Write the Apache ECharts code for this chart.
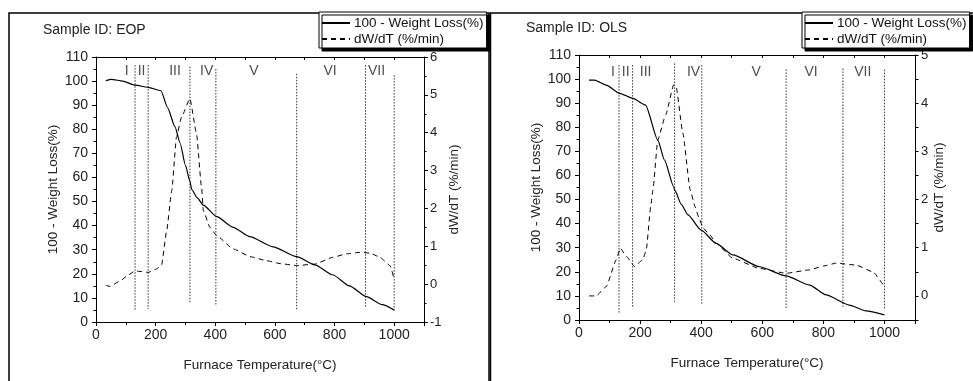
<!DOCTYPE html>
<html>
<head>
<meta charset="utf-8">
<script src="https://cdn.jsdelivr.net/npm/echarts@6/dist/echarts.min.js"></script>
<style>
html,body{margin:0;padding:0;background:#fff;}
#c{width:973px;height:381px;}
</style>
</head>
<body>
<div id="c"></div>
<script>
// ---------- DATA ----------
const seriesNames = ['100 - Weight Loss(%)', 'dW/dT (%/min)'];
const panelTitles = ['Sample ID: EOP', 'Sample ID: OLS'];
const xTickLabels = [0, 200, 400, 600, 800, 1000];

// EOP: 100 - Weight Loss (%)
const eopWT = [33, 52, 90, 131, 175, 218, 240, 265, 282, 300, 315, 321, 340, 360, 405, 460, 516, 594, 673, 734, 795, 850, 907, 960, 1000];
const eopW  = [100.2, 100.7, 100, 98.3, 97.4, 96, 89, 81, 74.3, 65, 58.4, 55, 51.5, 48.5, 43.7, 39.3, 35.4, 31.2, 27.1, 23.7, 19.5, 15, 10.5, 7.2, 5.0];
// EOP: dW/dT (%/min)
const eopDT = [33, 47, 80, 110, 131, 155, 175, 203, 220, 237, 254, 270, 287, 315, 337, 354, 360, 382, 405, 460, 520, 572, 620, 673, 734, 795, 840, 885, 920, 952, 986, 1000];
const eopD  = [-0.03, -0.06, 0.08, 0.25, 0.35, 0.33, 0.31, 0.40, 0.51, 1.41, 2.47, 3.89, 4.42, 4.9, 3.98, 2.56, 1.94, 1.5, 1.28, 0.93, 0.72, 0.62, 0.54, 0.49, 0.53, 0.71, 0.80, 0.84, 0.82, 0.71, 0.49, 0.13];
// EOP stage boundaries
const eopLineT   = [131, 175, 315, 402, 673, 904, 1000];
const eopLineTop = [106.6, 106.6, 106, 105, 103, 106.6, 102.5];
const eopLineBot = [5, 5.4, 7.8, 7, 5, 5.7, 4.3];
const stageNames = ['I', 'II', 'III', 'IV', 'V', 'VI', 'VII'];
const eopStageT  = [103, 153, 265, 371, 530, 785, 941];
const eopStageY  = 104;

// OLS: 100 - Weight Loss (%)
const olsWT = [33, 51, 89, 133, 176, 218, 258, 280, 310, 313, 335, 357, 400, 449, 504, 591, 678, 755, 809, 885, 940, 1000];
const olsW  = [99.6, 99.6, 97.5, 94.1, 92, 89.2, 74.7, 66.4, 55.3, 54, 48, 43.6, 37.3, 31.8, 27, 22.1, 18.3, 14.5, 10.4, 6.2, 3.8, 2.1];
// OLS: dW/dT (%/min)
const olsDT = [33, 56, 89, 122, 135, 155, 182, 209, 220, 236, 242, 258, 284, 310, 318, 340, 364, 380, 395, 406, 428, 449, 504, 591, 678, 755, 800, 842, 907, 962, 1000];
const olsD  = [0, 0, 0.19, 0.75, 0.99, 0.82, 0.61, 0.75, 0.95, 1.92, 2.2, 3.24, 3.76, 4.38, 4.34, 3.38, 2.2, 1.85, 1.58, 1.41, 1.27, 1.09, 0.78, 0.57, 0.47, 0.54, 0.62, 0.68, 0.64, 0.5, 0.19];
// OLS stage boundaries
const olsLineT   = [131, 175.5, 313, 402, 678, 864, 1000];
const olsLineTop = [105.8, 105.8, 106.5, 105.8, 104, 104.4, 103.9];
const olsLineBot = [3, 4.9, 7.6, 6.6, 4.9, 5.5, 4.1];
const olsStageT  = [111, 153, 218, 375, 580, 760, 929];
const olsStageY  = 103;

// ---------- CHART ----------
const FONT = 'Liberation Sans, Arial, sans-serif';
const TXT = '#222';
const zip = (a, b) => a.map((v, i) => [v, b[i]]);

function bottomX(gi) {
  return {
    type: 'value', gridIndex: gi, position: 'bottom', min: 0, max: 1100, interval: 200,
    name: 'Furnace Temperature(°C)', nameLocation: 'middle', nameGap: 36,
    nameTextStyle: { fontSize: 13.5, color: TXT, fontFamily: FONT },
    axisLine: { show: true, onZero: false, lineStyle: { color: '#000', width: 1 } },
    axisTick: { show: true, inside: false, length: 4, lineStyle: { color: '#000' } },
    minorTick: { show: true, splitNumber: 2, length: 3, lineStyle: { color: '#000' } },
    splitLine: { show: false },
    axisLabel: { fontSize: 14, color: TXT, fontFamily: FONT, margin: 6,
      formatter: v => (xTickLabels.indexOf(v) >= 0 ? String(v) : '') }
  };
}
function topX(gi) {
  return {
    type: 'value', gridIndex: gi, position: 'top', min: 0, max: 1100, interval: 100,
    axisLine: { show: true, onZero: false, lineStyle: { color: '#000', width: 1 } },
    axisTick: { show: true, inside: true, length: 3, lineStyle: { color: '#000' } },
    splitLine: { show: false }, axisLabel: { show: false }
  };
}
function leftY(gi) {
  return {
    type: 'value', gridIndex: gi, position: 'left', min: 0, max: 110, interval: 10,
    name: '100 - Weight Loss(%)', nameLocation: 'middle', nameGap: 36, nameRotate: 90,
    nameTextStyle: { fontSize: 13.5, color: TXT, fontFamily: FONT },
    axisLine: { show: true, onZero: false, lineStyle: { color: '#000', width: 1 } },
    axisTick: { show: true, inside: false, length: 4, lineStyle: { color: '#000' } },
    minorTick: { show: true, splitNumber: 2, length: 2.5, lineStyle: { color: '#000' } },
    splitLine: { show: false },
    axisLabel: { fontSize: 14, color: TXT, fontFamily: FONT, margin: 8 }
  };
}
function rightY(gi, min, max, interval, minor, gap) {
  return {
    type: 'value', gridIndex: gi, position: 'right', min: min, max: max, interval: interval,
    name: 'dW/dT (%/min)', nameLocation: 'middle', nameGap: gap, nameRotate: 90,
    nameTextStyle: { fontSize: 13.5, color: TXT, fontFamily: FONT },
    axisLine: { show: true, onZero: false, lineStyle: { color: '#000', width: 1 } },
    axisTick: { show: true, inside: false, length: minor ? 4 : 3.5, lineStyle: { color: '#000' } },
    minorTick: { show: minor, splitNumber: 2, length: 2.5, lineStyle: { color: '#000' } },
    splitLine: { show: false },
    axisLabel: { fontSize: 13, color: TXT, fontFamily: FONT, margin: 6,
      formatter: v => (Number.isInteger(v) ? String(v) : '') }
  };
}

function panelSeries(xi, yl, yr, wT, w, dT, d, lT, lTop, lBot, sT, sY) {
  const out = [];
  out.push({
    name: seriesNames[0], type: 'line', xAxisIndex: xi, yAxisIndex: yl,
    data: zip(wT, w), symbol: 'none', smooth: 0.2, smoothMonotone: 'x',
    lineStyle: { color: '#000', width: 1.2, type: 'solid' }, itemStyle: { color: '#000' }, z: 5
  });
  out.push({
    name: seriesNames[1], type: 'line', xAxisIndex: xi, yAxisIndex: yr,
    data: zip(dT, d), symbol: 'none', smooth: 0.15, smoothMonotone: 'x',
    lineStyle: { color: '#000', width: 1, type: [5, 4] }, itemStyle: { color: '#000' }, z: 5
  });
  lT.forEach((t, i) => {
    out.push({
      name: 'stage', type: 'line', xAxisIndex: xi, yAxisIndex: yl,
      data: [[t, lTop[i]], [t, lBot[i]]], symbol: 'none', silent: true,
      lineStyle: { color: '#333', width: 1, type: [1.5, 1.5] }, z: 3
    });
  });
  out.push({
    name: 'stageLabels', type: 'scatter', xAxisIndex: xi, yAxisIndex: yl,
    symbolSize: 0, silent: true,
    data: sT.map((t, i) => ({ value: [t, sY], name: stageNames[i] })),
    label: { show: true, position: 'inside', formatter: '{b}', fontSize: 14,
      color: TXT, fontFamily: FONT }
  });
  return out;
}

const legendBase = {
  orient: 'vertical', top: 12, itemWidth: 28, itemHeight: 13, itemGap: 2,
  padding: [4, 3, 2, 2], align: 'left',
  borderColor: '#000', borderWidth: 1, backgroundColor: '#fff',
  shadowColor: '#000', shadowBlur: 0, shadowOffsetX: 3, shadowOffsetY: 3,
  itemStyle: { opacity: 0 },
  textStyle: { fontSize: 13.5, color: '#111', fontFamily: FONT, padding: [0, 0, 0, -1] },
  data: seriesNames.slice(), selectedMode: false, z: 10
};

const option = {
  animation: false,
  backgroundColor: '#fff',
  grid: [
    { left: 96, top: 57, width: 328, height: 265, containLabel: false },
    { left: 579, top: 55, width: 336, height: 265, containLabel: false }
  ],
  xAxis: [bottomX(0), topX(0), bottomX(1), topX(1)],
  yAxis: [leftY(0), rightY(0, -1, 6, 1, true, 23), leftY(1), rightY(1, -0.5, 5, 0.5, false, 17)],
  legend: [
    Object.assign({}, legendBase, { left: 319 }),
    Object.assign({}, legendBase, { left: 802 })
  ],
  graphic: [
    { type: 'rect', z: -10, shape: { x: 9, y: 13, width: 480, height: 420 },
      style: { fill: 'none', stroke: '#000', lineWidth: 1.5 } },
    { type: 'rect', z: -10, shape: { x: 490.5, y: 13, width: 600, height: 420 },
      style: { fill: 'none', stroke: '#000', lineWidth: 1.5 } },
    { type: 'text', x: 43, y: 30, style: { text: panelTitles[0], fontSize: 14, fontFamily: FONT, fill: TXT, verticalAlign: 'middle' } },
    { type: 'text', x: 526, y: 28, style: { text: panelTitles[1], fontSize: 14, fontFamily: FONT, fill: TXT, verticalAlign: 'middle' } }
  ],
  series: [].concat(
    panelSeries(0, 0, 1, eopWT, eopW, eopDT, eopD, eopLineT, eopLineTop, eopLineBot, eopStageT, eopStageY),
    panelSeries(2, 2, 3, olsWT, olsW, olsDT, olsD, olsLineT, olsLineTop, olsLineBot, olsStageT, olsStageY)
  )
};

const chart = echarts.init(document.getElementById('c'), null, { renderer: 'canvas' });
chart.setOption(option);
</script>
</body>
</html>
